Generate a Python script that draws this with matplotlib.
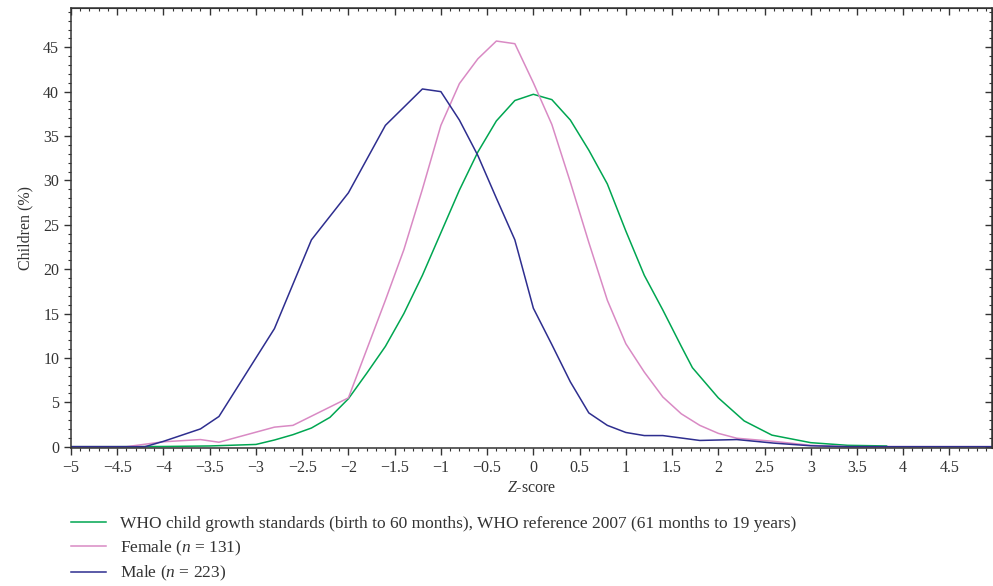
import matplotlib
matplotlib.use('Agg')
import matplotlib.pyplot as plt
from matplotlib.ticker import MultipleLocator, FuncFormatter

plt.rcParams['font.family'] = ['Liberation Serif', 'DejaVu Serif']
plt.rcParams['mathtext.fontset'] = 'custom'
plt.rcParams['mathtext.rm'] = 'Liberation Serif'
plt.rcParams['mathtext.it'] = 'Liberation Serif:italic'

# WHO reference curve
who_z = [-5, -4.5, -4, -3.5, -3, -2.8, -2.6, -2.4, -2.2, -2.0, -1.8, -1.6, -1.4, -1.2,
         -1.0, -0.8, -0.6, -0.4, -0.2, 0, 0.2, 0.4, 0.6, 0.8, 1.0, 1.2, 1.4, 1.6,
         1.72, 2.0, 2.28, 2.58, 3.0, 3.4, 3.82]
who_pct = [0, 0, 0.02, 0.08, 0.25, 0.75, 1.35, 2.1, 3.3, 5.4, 8.3, 11.3, 15.0, 19.3,
           24.1, 28.9, 33.2, 36.7, 39.0, 39.7, 39.1, 36.8, 33.4, 29.6, 24.3, 19.3, 15.4, 11.3,
           8.9, 5.5, 2.9, 1.3, 0.45, 0.15, 0.08]

# female
fem_z = [-5, -4.4, -4.0, -3.6, -3.4, -2.8, -2.6, -2.0, -1.8, -1.6, -1.4, -1.2, -1.0,
         -0.8, -0.6, -0.4, -0.2, 0, 0.2, 0.4, 0.6, 0.8, 1.0, 1.2, 1.4, 1.6, 1.8,
         2.0, 2.2, 2.6, 3.0, 3.4, 5.0]
fem_pct = [0, 0, 0.55, 0.8, 0.5, 2.2, 2.4, 5.5, 11.0, 16.5, 22.2, 29.0, 36.2,
           40.9, 43.7, 45.7, 45.4, 41.0, 36.3, 29.8, 23.0, 16.5, 11.6, 8.4, 5.6, 3.7, 2.4,
           1.5, 0.95, 0.6, 0.15, 0, 0]

# male
male_z = [-5, -4.2, -4.0, -3.6, -3.4, -3.0, -2.8, -2.4, -2.0, -1.6, -1.2, -1.0, -0.8,
          -0.6, -0.4, -0.2, 0, 0.2, 0.4, 0.6, 0.8, 1.0, 1.2, 1.4, 1.8, 2.2, 2.6,
          3.0, 3.4, 5.0]
male_pct = [0, 0, 0.6, 2.0, 3.4, 10.0, 13.3, 23.3, 28.6, 36.2, 40.3, 40.0, 36.8,
            32.8, 28.0, 23.3, 15.6, 11.5, 7.3, 3.8, 2.4, 1.6, 1.25, 1.25, 0.7, 0.8, 0.4,
            0.1, 0, 0]

labels = ['WHO child growth standards (birth to 60 months), WHO reference 2007 (61 months to 19 years)',
          'Female ($n$ = 131)',
          'Male ($n$ = 223)']
colors = ['#00a651', '#d98ac4', '#2e2e8f']

fig = plt.figure(figsize=(9.93, 5.86), dpi=100)
ax = fig.add_axes([0.0715, 0.2355, 0.9275, 0.7505])

ax.plot(who_z, who_pct, color=colors[0], lw=1.1, label=labels[0])
ax.plot(fem_z, fem_pct, color=colors[1], lw=1.1, label=labels[1])
ax.plot(male_z, male_pct, color=colors[2], lw=1.1, label=labels[2])

ax.set_xlim(-5, 4.96)
ax.set_ylim(-0.15, 49.4)

ax.xaxis.set_major_locator(MultipleLocator(0.5))
ax.xaxis.set_minor_locator(MultipleLocator(0.1))
ax.yaxis.set_major_locator(MultipleLocator(5))
ax.yaxis.set_minor_locator(MultipleLocator(1))
fmt = FuncFormatter(lambda v, p: ('%g' % v).replace('-', '\u2212'))
ax.xaxis.set_major_formatter(fmt)
ax.yaxis.set_major_formatter(fmt)

ax.tick_params(which='both', direction='out', colors='#333333', labelcolor='#333333', labelsize=11.5)
ax.tick_params(which='major', length=5, width=1)
ax.tick_params(which='minor', length=2.5, width=0.8)

# top and right ticks point inward
top = ax.secondary_xaxis('top')
top.xaxis.set_major_locator(MultipleLocator(0.5))
top.xaxis.set_minor_locator(MultipleLocator(0.1))
top.tick_params(which='both', direction='in', labeltop=False, colors='#333333')
top.tick_params(which='major', length=5, width=1)
top.tick_params(which='minor', length=2.5, width=0.8)
right = ax.secondary_yaxis('right')
right.yaxis.set_major_locator(MultipleLocator(5))
right.yaxis.set_minor_locator(MultipleLocator(1))
right.tick_params(which='both', direction='in', labelright=False, colors='#333333')
right.tick_params(which='major', length=5, width=1)
right.tick_params(which='minor', length=2.5, width=0.8)

for s in ax.spines.values():
    s.set_color('#333333')
    s.set_linewidth(1.1)
top.spines['top'].set_color('#333333')
right.spines['right'].set_color('#333333')

ax.set_xlabel('$Z$-score', fontsize=11.5, color='#333333', labelpad=3)
ax.set_ylabel('Children (%)', fontsize=11.5, color='#333333', labelpad=7)

ax.legend(loc='upper left', bbox_to_anchor=(0.0715, 0.119), bbox_transform=fig.transFigure,
          frameon=False, fontsize=12.5, handlelength=2.0, handletextpad=0.82,
          labelspacing=0.36, borderaxespad=0, borderpad=0, labelcolor='#333333')

fig.savefig('out.png', dpi=100)
